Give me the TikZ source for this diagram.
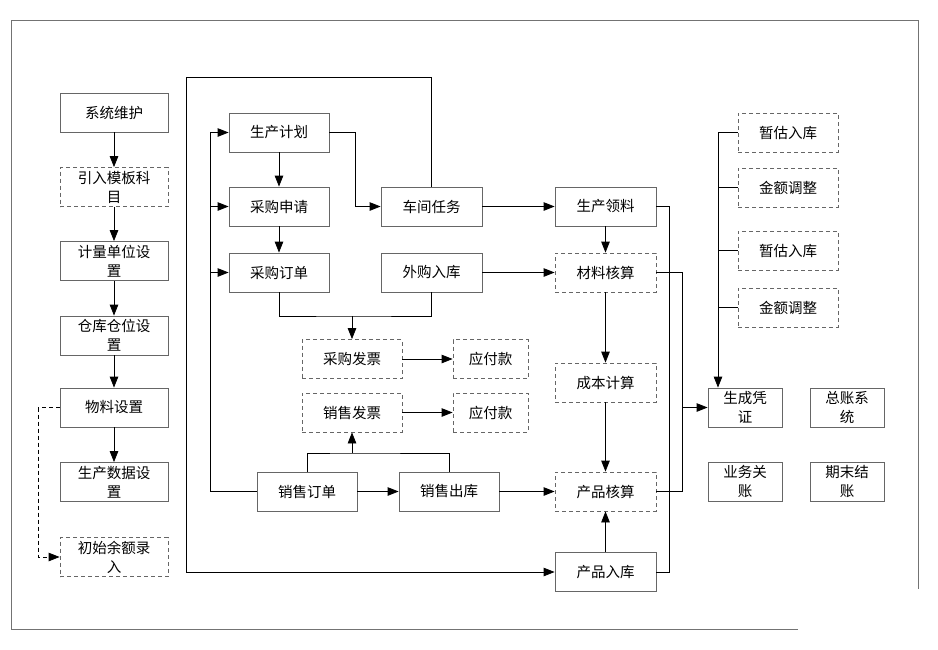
\documentclass[tikz,border=0pt]{standalone}
\usepackage{fontspec}
\newfontfamily\cjk{Noto Sans CJK SC}
\usetikzlibrary{arrows.meta}
\tikzset{
  box/.style={draw=black!60, line width=0.8pt, minimum height=39pt, inner sep=0pt,
    align=center, font=\cjk\fontsize{14.5}{19}\selectfont},
  dbox/.style={box, dash pattern=on 4pt off 3pt},
  wire/.style={line width=0.8pt},
  link/.style={wire, -{Triangle[length=11pt,width=8.5pt]}},
}

\begin{document}
\begin{tikzpicture}[x=1pt,y=-1pt]
	\useasboundingbox (0,0) rectangle (938,649);
	% open outer frame
	\draw[black!55, line width=0.8pt] (798,629) -- (11,629) -- (11,20) -- (918,20) -- (918,589);
	% basic settings column
	\node[box, minimum width=108pt] (sysmnt) at (114,112.5) {系统维护};
	\node[dbox, minimum width=108pt] (tplacct) at (114,187) {引入模板科\\目};
	\node[box, minimum width=108pt] (unitset) at (114,261) {计量单位设\\置};
	\node[box, minimum width=108pt] (whset) at (114,335.5) {仓库仓位设\\置};
	\node[box, minimum width=108pt] (matset) at (114,407.5) {物料设置};
	\node[box, minimum width=108pt] (pdataset) at (114,482) {生产数据设\\置};
	\node[dbox, minimum width=108pt] (initbal) at (114,557) {初始余额录\\入};
	\draw[link] (sysmnt) -- (tplacct);
	\draw[link] (tplacct) -- (unitset);
	\draw[link] (unitset) -- (whset);
	\draw[link] (whset) -- (matset);
	\draw[link] (matset) -- (pdataset);
	\draw[link, dash pattern=on 4pt off 3pt] (matset.west) -- ++(-21,0) |- (initbal.west);
	% planning and purchasing
	\node[box, minimum width=100pt] (plan) at (279,132.5) {生产计划};
	\node[box, minimum width=100pt] (preq) at (279,206.5) {采购申请};
	\node[box, minimum width=100pt] (porder) at (279,272.5) {采购订单};
	\node[box, minimum width=101pt] (task) at (431.5,206.5) {车间任务};
	\node[box, minimum width=101pt] (buyin) at (431.5,272.5) {外购入库};
	\node[dbox, minimum width=100pt] (pinv) at (352,359) {采购发票};
	\node[dbox, minimum width=75pt] (pay1) at (490.5,359) {应付款};
	\node[dbox, minimum width=100pt] (sinv) at (352,412.5) {销售发票};
	\node[dbox, minimum width=75pt] (pay2) at (490.5,412.5) {应付款};
	\node[box, minimum width=100pt] (sorder) at (307,491.5) {销售订单};
	\node[box, minimum width=100pt] (sout) at (449,491.5) {销售出库};
	\draw[link] (plan) -- (preq);
	\draw[link] (preq) -- (porder);
	\draw[link] (plan.east) -- ++(26,0) |- (task.west);
	% sales order feeds the plan side
	\coordinate (lbus) at (210,491.5);
	\draw[link] (sorder.west) -- (lbus) |- (plan.west);
	\draw[link] (lbus |- preq.west) -- (preq.west);
	\draw[link] (lbus |- porder.west) -- (porder.west);
	% invoices
	\coordinate (pmerge) at (352,316);
	\draw[wire] (porder.south) |- (pmerge) -| (buyin.south);
	\draw[link] (pmerge) -- (pinv.north);
	\draw[link] (pinv) -- (pay1);
	\coordinate (smerge) at (352,453);
	\draw[wire] (sorder.north) |- (smerge) -| (sout.north);
	\draw[link] (smerge) -- (sinv.south);
	\draw[link] (sinv) -- (pay2);
	\draw[link] (sorder) -- (sout);
	% costing column
	\node[box, minimum width=101pt] (pick) at (605.5,206.5) {生产领料};
	\node[dbox, minimum width=101pt] (matacc) at (605.5,272.5) {材料核算};
	\node[dbox, minimum width=101pt] (cost) at (605.5,382.5) {成本计算};
	\node[dbox, minimum width=101pt] (prodacc) at (605.5,491.5) {产品核算};
	\node[box, minimum width=101pt] (prodin) at (605.5,572) {产品入库};
	\draw[link] (task) -- (pick);
	\draw[link] (buyin) -- (matacc);
	\draw[link] (sout) -- (prodacc);
	\draw[link] (pick) -- (matacc);
	\draw[link] (matacc) -- (cost);
	\draw[link] (cost) -- (prodacc);
	\draw[link] (prodin) -- (prodacc);
	% big loop from workshop task to product receipt
	\coordinate (loopc) at (186,77);
	\draw[link] (task.north) |- (loopc) |- (prodin.west);
	\draw[wire] (pick.east) -- ++(13,0) |- (prodin.east);
	% voucher side
	\node[dbox, minimum width=100pt] (est1) at (788,132.5) {暂估入库};
	\node[dbox, minimum width=100pt] (adj1) at (788,187.5) {金额调整};
	\node[dbox, minimum width=100pt] (est2) at (788,250.5) {暂估入库};
	\node[dbox, minimum width=100pt] (adj2) at (788,307.5) {金额调整};
	\node[box, minimum width=74pt] (voucher) at (745,407.5) {生成凭\\证};
	\node[box, minimum width=74pt] (glsys) at (847,407.5) {总账系\\统};
	\node[box, minimum width=74pt] (bizclose) at (745,482) {业务关\\账};
	\node[box, minimum width=74pt] (pdclose) at (847,482) {期末结\\账};
	\coordinate (rbus) at (682,407.5);
	\draw[wire] (matacc.east) -- ++(26,0) |- (prodacc.east);
	\draw[link] (rbus) -- (voucher.west);
	\coordinate (vbus) at (718,132.5);
	\draw[link] (est1.west) -- (vbus) -- (vbus |- voucher.north);
	\draw[wire] (adj1.west) -- (vbus |- adj1.west);
	\draw[wire] (est2.west) -- (vbus |- est2.west);
	\draw[wire] (adj2.west) -- (vbus |- adj2.west);
\end{tikzpicture}
\end{document}
